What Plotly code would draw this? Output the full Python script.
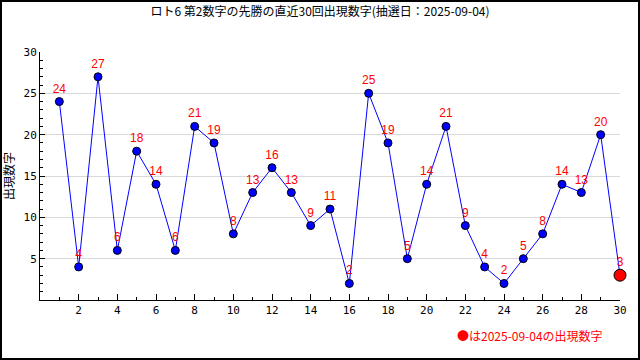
import plotly.graph_objects as go

draws = list(range(1, 31))
numbers = [24, 4, 27, 6, 18, 14, 6, 21, 19, 8, 13, 16, 13, 9, 11, 2, 25, 19, 5, 14,
           21, 9, 4, 2, 5, 8, 14, 13, 20, 3]
x_ticks = list(range(2, 31, 2))
y_ticks = [5, 10, 15, 20, 25, 30]
title = "ロト6 第2数字の先勝の直近30回出現数字(抽選日：2025-09-04)"
note = "●は2025-09-04の出現数字"
ytitle = "出現数字"

FONT = "Noto Sans CJK JP, DejaVu Sans Mono"
MONO = "DejaVu Sans Mono, Noto Sans CJK JP"

fig = go.Figure()
fig.add_trace(go.Scatter(
    x=draws, y=numbers, mode="lines+markers+text",
    line=dict(color="#0000ff", width=1),
    marker=dict(color="#0000ff", size=8, line=dict(color="#000000", width=1)),
    text=[str(v) for v in numbers], textposition="top center",
    textfont=dict(color="#ff0000", size=12, family="Liberation Sans, Arial"),
    cliponaxis=False, hoverinfo="skip",
))
fig.add_trace(go.Scatter(
    x=[draws[-1]], y=[numbers[-1]], mode="markers",
    marker=dict(color="#ff0000", size=12, line=dict(color="#000000", width=1)),
    cliponaxis=False, hoverinfo="skip",
))

L, R, T, B = 40, 20, 52, 60
W, H = 640, 360
pw, ph = W - L - R, H - T - B

fig.update_layout(
    width=W, height=H, autosize=False,
    margin=dict(l=L, r=R, t=T, b=B, autoexpand=False),
    paper_bgcolor="white", plot_bgcolor="white",
    showlegend=False,
    font=dict(family=FONT, size=11, color="#000000"),
    title=dict(text=title, x=0.5, xanchor="center", y=1 - 12 / H, yanchor="middle",
               font=dict(size=12, family=FONT, color="#000000")),
    xaxis=dict(range=[0, 30], tickvals=x_ticks, ticks="inside", ticklen=6, tickcolor="#000",
               showline=True, linecolor="#000", linewidth=1, showgrid=False, zeroline=False,
               automargin=False,
               minor=dict(dtick=1, tick0=0, ticks="inside", ticklen=3, tickcolor="#000", showgrid=False),
               tickfont=dict(size=11, family=MONO)),
    yaxis=dict(range=[0, 30], tickvals=y_ticks, ticks="inside", ticklen=5, tickcolor="#000",
               showline=True, linecolor="#000", linewidth=1, showgrid=True, gridcolor="#d9d9d9",
               zeroline=False, automargin=False,
               minor=dict(dtick=1, tick0=0, ticks="inside", ticklen=3, tickcolor="#000", showgrid=False),
               tickfont=dict(size=11, family=MONO),
               title=dict(text=ytitle, font=dict(size=12, family=FONT), standoff=8)),
    annotations=[dict(text=note, xref="paper", yref="paper",
                      x=1 - 15 / pw, y=-35 / ph, xanchor="right", yanchor="middle",
                      showarrow=False, font=dict(color="#ff0000", size=12, family=FONT))],
    shapes=[dict(type="rect", xref="paper", yref="paper",
                 x0=-(L - 1) / pw, x1=1 + (R - 1) / pw,
                 y0=-(B - 1) / ph, y1=1 + (T - 1) / ph,
                 line=dict(color="#000", width=2), layer="above")],
)
fig.write_html("out.html", config={"displayModeBar": False},
               post_script="document.body.style.margin='0';document.body.style.overflow='hidden';")
